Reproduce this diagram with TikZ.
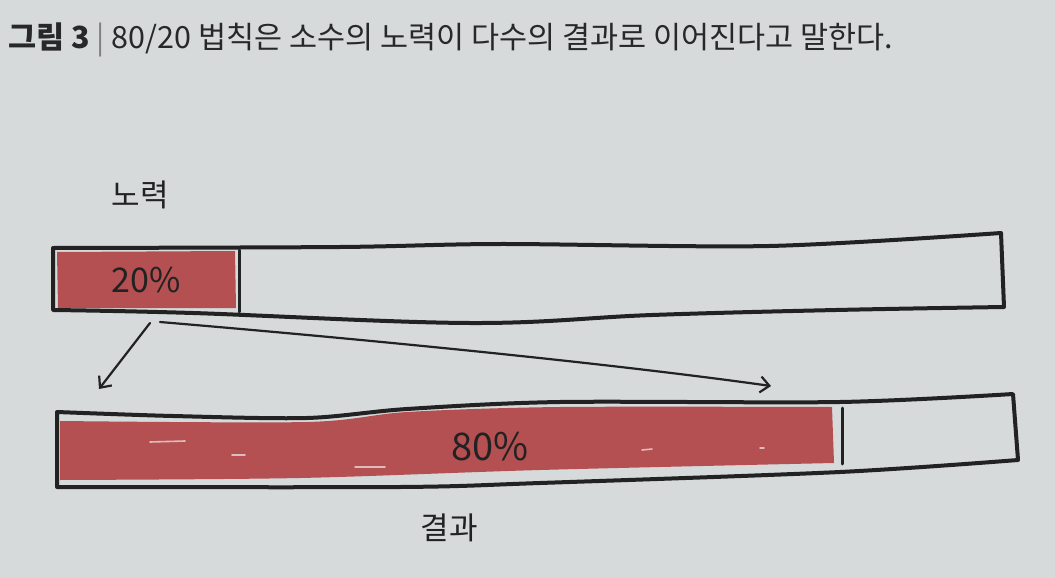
\documentclass[tikz,border=0pt]{standalone}
\usepackage{fontspec}
\newfontfamily\kr{Noto Sans CJK KR}
\usetikzlibrary{arrows.meta}
\definecolor{paper}{RGB}{214,218,219}
\definecolor{ink}{RGB}{34,34,34}
\definecolor{marker}{RGB}{181,80,82}
\definecolor{streak}{RGB}{222,188,188}
\definecolor{titleink}{RGB}{40,40,40}
\tikzset{
  outline/.style={draw=ink,line width=4pt,line cap=round,line join=round},
  redfill/.style={fill=marker},
  streakline/.style={draw=streak,line width=1.6pt,line cap=round},
  divider/.style={draw=ink,line width=3pt,line cap=round},
  hand/.style={font=\kr\fontsize{34}{34}\selectfont,text=ink,inner sep=0pt},
  arrowline/.style={draw=ink,line width=2.2pt,line cap=round,-{Straight Barb[length=9pt,width=16pt,line width=2.2pt]}},
}
\begin{document}
\begin{tikzpicture}[x=1pt,y=-1pt]
\fill[paper] (0,0) rectangle (1055,578);
\useasboundingbox (0,0) rectangle (1055,578);
% title
\node[anchor=west,inner sep=0pt,text=titleink,font=\kr\fontsize{30.5}{30.5}\selectfont] (title) at (8,40)
  {\textbf{그림 3} {\color{gray}|} 80/20 법칙은 소수의 노력이 다수의 결과로 이어진다고 말한다.};
% top bar
\fill[redfill] (57,252) -- (235,251) -- (236,308) -- (58,308) -- cycle;
\draw[outline] plot[smooth,tension=0.5] coordinates {(53,248) (340,247) (500,244) (769,246) (1001,233)}
  -- plot[smooth,tension=0.6] coordinates {(1004,307) (836,310) (652,315) (470,323) (193,313) (53,310)}
  -- cycle;
\draw[divider] (239,250) -- (239,312);
\node[hand] (p20) at (146,280) {20\%};
\node[hand,font=\kr\fontsize{31}{31}\selectfont] (effort) at (140,195) {노력};
% bottom bar
\fill[redfill] plot[smooth,tension=0.5] coordinates {(60,421) (307,422) (407,412) (560,407) (832,407)}
  -- (834,463) -- plot[smooth,tension=0.5] coordinates {(834,463) (540,470) (300,478) (60,480)} -- cycle;
\draw[streakline] (150,442) -- (185,441);
\draw[streakline] (232,455) -- (245,455);
\draw[streakline] (355,467) -- (385,467);
\draw[streakline] (642,450) -- (652,449);
\draw[streakline] (760,448) -- (764,448);
\draw[outline] plot[smooth,tension=0.5] coordinates {(57,412) (173,416) (307,418) (407,409) (560,402) (840,402) (1013,394)}
  -- plot[smooth,tension=0.5] coordinates {(1018,460) (840,472) (540,483) (400,487) (57,487)}
  -- cycle;
\draw[divider] (842,408) -- (842,464);
\node[hand,font=\kr\fontsize{38}{38}\selectfont] (p80) at (490,447) {80\%};
\node[hand,font=\kr\fontsize{31}{31}\selectfont] (result) at (449,528) {결과};
% arrows
\coordinate (a1s) at (150,323);
\coordinate (a1e) at (99,389);
\coordinate (a2s) at (160,322);
\coordinate (a2e) at (771,386);
\draw[arrowline] (a1s) -- (a1e);
\draw[arrowline] (a2s) .. controls (350,338) and (600,362) .. (a2e);
\end{tikzpicture}
\end{document}
